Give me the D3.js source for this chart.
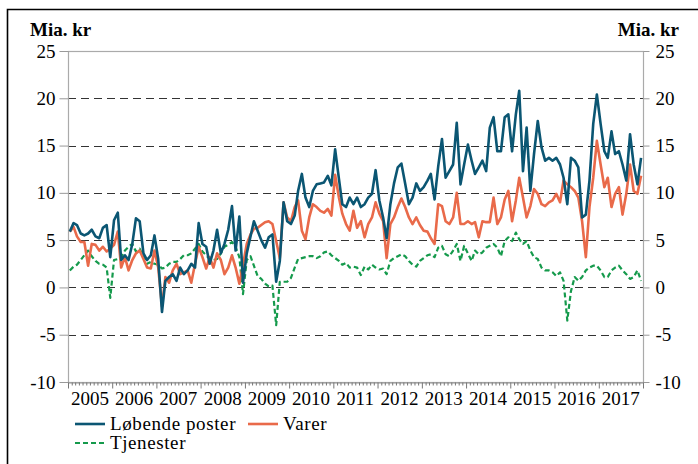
<!DOCTYPE html>
<html lang="da"><head><meta charset="UTF-8">
<title>Løbende poster</title>
<script src="https://d3js.org/d3.v7.min.js"></script>
<style type="text/css">
	body { margin: 0; background: #fff; }
	svg text { font-family: "Liberation Serif", "DejaVu Serif", "Noto Serif", "Times New Roman", Times, Georgia, serif; }
</style>
</head>
<body>
<script type="text/javascript">

var w = 698;
var h = 464;

// monthly values, Jan 2005 - Dec 2017 (mia. kr)
var lobende = [
	5.9, 6.8, 6.6, 5.7, 5.5, 5.7, 6.1, 5.4, 5.2, 6.3, 6.6, 3.2,
	7.1, 7.9, 2.9, 3.4, 2.9, 4.6, 7.3, 7.0, 3.6, 2.9, 3.4, 5.5,
	3.0, -2.6, 0.7, 1.1, 1.4, 0.7, 2.1, 1.4, 1.8, 2.5, 2.1, 6.8,
	4.6, 4.3, 2.5, 3.9, 6.1, 3.6, 4.6, 6.1, 8.6, 3.9, 7.5, 0.5,
	3.6, 5.4, 7.0, 6.0, 5.0, 4.2, 5.3, 5.6, 0.6, 2.8, 9.0, 7.0,
	6.7, 7.6, 10.2, 12.0, 9.5, 8.5, 10.2, 10.9, 11.0, 11.1, 11.8, 10.8,
	14.6, 11.5, 8.8, 8.5, 9.5, 8.8, 9.5, 8.5, 8.8, 9.5, 9.9, 12.4,
	9.2, 7.4, 5.2, 8.8, 11.0, 12.7, 13.1, 11.0, 8.8, 9.5, 11.0, 10.2,
	10.6, 11.3, 12.0, 9.3, 12.8, 15.7, 11.6, 12.3, 13.0, 17.4, 10.9, 13.0,
	15.1, 13.4, 12.0, 12.7, 13.4, 12.3, 16.9, 18.0, 14.4, 14.4, 18.0, 18.3,
	14.4, 18.3, 20.8, 12.3, 16.9, 10.2, 14.1, 17.6, 14.8, 13.4, 13.7, 13.4,
	13.7, 13.0, 11.6, 8.8, 13.7, 13.4, 12.7, 7.4, 7.7, 11.3, 17.3, 20.4,
	17.3, 14.4, 13.7, 16.5, 14.1, 14.4, 13.0, 11.3, 16.2, 13.0, 10.9, 13.7
];
var varer = [
	5.9, 6.4, 5.4, 4.8, 4.8, 2.3, 4.6, 4.5, 3.9, 4.3, 3.8, 4.1,
	4.5, 5.9, 2.1, 3.2, 1.8, 2.9, 3.6, 3.9, 3.0, 2.1, 2.0, 3.9,
	2.1, -2.0, 1.1, 0.5, 1.8, 2.5, 1.4, 1.6, 1.8, 0.5, 2.5, 4.3,
	3.2, 2.0, 3.2, 2.1, 3.6, 2.9, 1.4, 2.1, 3.4, 2.1, 0.4, 2.4,
	4.6, 5.6, 6.2, 6.3, 6.6, 6.9, 7.0, 6.7, 4.9, 3.1, 9.0, 7.4,
	7.0, 8.5, 9.2, 6.0, 5.1, 7.4, 8.8, 8.5, 8.1, 7.9, 8.3, 7.6,
	11.9, 9.5, 7.8, 6.7, 6.0, 8.1, 6.3, 7.0, 5.3, 6.7, 7.4, 9.0,
	7.8, 7.0, 3.1, 6.7, 7.4, 8.5, 9.4, 8.5, 7.4, 6.7, 7.4, 6.6,
	6.0, 5.9, 5.2, 4.6, 8.8, 8.6, 7.0, 6.7, 7.4, 10.0, 6.7, 6.7,
	7.0, 6.7, 6.9, 5.3, 7.0, 6.9, 6.9, 9.5, 6.7, 7.4, 9.3, 10.2,
	7.0, 9.2, 11.6, 9.5, 7.4, 8.6, 10.4, 9.9, 8.8, 8.6, 9.0, 9.2,
	9.9, 9.0, 11.3, 10.9, 10.6, 10.2, 9.5, 7.0, 3.2, 8.5, 11.6, 15.5,
	13.0, 10.6, 11.6, 8.5, 9.9, 10.6, 7.7, 9.9, 13.0, 10.2, 9.9, 11.8
];
var tjenester = [
	1.8, 2.2, 2.4, 2.9, 3.4, 3.9, 3.3, 2.8, 2.5, 2.4, 2.1, -1.1,
	2.9, 3.0, 3.2, 3.9, 4.3, 4.6, 3.8, 4.1, 3.2, 2.5, 2.7, 2.5,
	2.4, 2.0, 2.1, 2.5, 2.7, 2.7, 3.0, 3.4, 3.4, 3.6, 4.1, 4.6,
	3.8, 3.4, 3.0, 2.9, 3.0, 3.6, 4.3, 4.5, 4.8, 4.3, 3.2, -0.7,
	2.9, 3.3, 2.3, 1.2, 0.9, 0.4, 0.1, 0.2, -4.0, 0.6, 0.6, 0.6,
	1.0, 2.1, 3.0, 3.1, 3.2, 3.3, 3.3, 3.1, 3.3, 3.7, 3.8, 3.4,
	3.1, 2.8, 2.4, 2.6, 2.1, 2.2, 2.1, 1.3, 2.2, 1.9, 2.4, 2.1,
	1.9, 2.0, 1.4, 2.8, 3.1, 3.3, 3.5, 3.3, 2.8, 2.4, 2.2, 2.8,
	3.1, 3.4, 3.5, 3.2, 4.2, 4.4, 3.5, 3.3, 3.9, 4.6, 2.8, 4.4,
	3.6, 2.8, 3.9, 3.5, 3.7, 4.2, 4.4, 4.6, 4.2, 3.3, 4.9, 5.3,
	4.9, 5.8, 5.1, 4.6, 4.9, 3.9, 3.2, 3.0, 2.1, 1.8, 1.8, 1.6,
	1.2, 1.6, 0.7, -3.5, -0.4, 1.1, 0.7, 1.1, 1.8, 2.1, 2.3, 2.3,
	1.8, 1.1, 1.1, 1.8, 2.1, 2.3, 1.8, 1.4, 0.9, 1.1, 1.8, 0.7
];
var yTicks = [25, 20, 15, 10, 5, 0, -5, -10];
var years = [2005, 2006, 2007, 2008, 2009, 2010, 2011, 2012, 2013, 2014, 2015, 2016, 2017];

var seriesList = [
	{name: "Løbende poster", values: lobende, color: "#0b5673", dash: null, width: 2.6},
	{name: "Varer", values: varer, color: "#e96a4a", dash: null, width: 2.6},
	{name: "Tjenester", values: tjenester, color: "#159a4c", dash: "5,3", width: 2.2}
];

var plot = {left: 68, right: 643, top: 51, bottom: 382};

var start = new Date(2005, 0, 1);
var xScale = d3.scaleTime()
	.domain([start, new Date(2018, 0, 1)])
	.range([plot.left, plot.right]);
var yScale = d3.scaleLinear()
	.domain([-10, 25])
	.range([plot.bottom, plot.top]);

function monthDate(i) {
	// middle of month i after Jan 2005
	return d3.timeDay.offset(d3.timeMonth.offset(start, i), 15);
}

var svg = d3.select("body")
	.append("svg")
	.attr("width", w)
	.attr("height", h);

// outer frame (left and top edge)
svg.append("path")
	.attr("d", "M7.5," + h + "V9.5H" + w)
	.attr("fill", "none")
	.attr("stroke", "#000")
	.attr("stroke-width", 1.6);

// gridlines
svg.append("g")
	.selectAll("line")
	.data(yTicks.filter(function(d) { return d > -10 && d < 25; }))
	.enter()
	.append("line")
	.attr("x1", plot.left)
	.attr("x2", plot.right)
	.attr("y1", function(d) { return Math.round(yScale(d)) + 0.5; })
	.attr("y2", function(d) { return Math.round(yScale(d)) + 0.5; })
	.attr("stroke", "#333")
	.attr("stroke-width", 1.1)
	.attr("stroke-dasharray", "8,5");

// plot box
svg.append("rect")
	.attr("x", plot.left + 0.5)
	.attr("y", plot.top + 0.5)
	.attr("width", plot.right - plot.left)
	.attr("height", plot.bottom - plot.top)
	.attr("fill", "none")
	.attr("stroke", "#aaa")
	.attr("stroke-width", 1.2);

// y axes, left and right
var fmt = function(d) { return String(d); };
var yAxisL = d3.axisLeft(yScale).tickValues(yTicks).tickSize(9).tickPadding(4).tickFormat(fmt);
var yAxisR = d3.axisRight(yScale).tickValues(yTicks).tickSize(6).tickPadding(6).tickFormat(fmt);

var gl = svg.append("g")
	.attr("transform", "translate(" + (plot.left + 0.5) + ",0)")
	.call(yAxisL);
var gr = svg.append("g")
	.attr("transform", "translate(" + (plot.right + 0.5) + ",0)")
	.call(yAxisR);
[gl, gr].forEach(function(g) {
	g.attr("font-family", null).attr("font-size", "19px");
	g.select(".domain").remove();
	g.selectAll(".tick line").attr("stroke", "#999");
	g.selectAll("text").attr("fill", "#000");
});

// x axis: month ticks and year labels
var xAxis = d3.axisBottom(xScale)
	.ticks(d3.timeMonth.every(1))
	.tickSize(3)
	.tickFormat("");
var gx = svg.append("g")
	.attr("transform", "translate(0," + (plot.bottom + 0.5) + ")")
	.call(xAxis);
gx.select(".domain").attr("stroke", "#999");
gx.selectAll(".tick line")
	.attr("stroke", "#777")
	.attr("y2", function(d) { return d.getMonth() === 0 ? 6 : 3; });

svg.append("g")
	.attr("font-size", "19px")
	.selectAll("text")
	.data(years)
	.enter()
	.append("text")
	.attr("x", function(d) { return xScale(new Date(d, 6, 1)); })
	.attr("y", 405)
	.attr("text-anchor", "middle")
	.text(function(d) { return d; });

// unit labels
[[30, "start"], [679, "end"]].forEach(function(p) {
	svg.append("text")
		.attr("x", p[0])
		.attr("y", 36)
		.attr("text-anchor", p[1])
		.attr("font-size", "19px")
		.attr("font-weight", "bold")
		.text("Mia. kr");
});

// lines
var line = d3.line()
	.x(function(d, i) { return xScale(monthDate(i)); })
	.y(function(d) { return yScale(d); });

svg.append("g")
	.selectAll("path")
	.data(seriesList.slice().reverse())
	.enter()
	.append("path")
	.attr("d", function(s) { return line(s.values); })
	.attr("fill", "none")
	.attr("stroke", function(s) { return s.color; })
	.attr("stroke-width", function(s) { return s.width; })
	.attr("stroke-dasharray", function(s) { return s.dash; })
	.attr("stroke-linejoin", "round");

// legend
var legendPos = [[75, 424], [248, 424], [75, 443]];
var lg = svg.append("g")
	.selectAll("g")
	.data(seriesList)
	.enter()
	.append("g")
	.attr("transform", function(d, i) { return "translate(" + legendPos[i][0] + "," + legendPos[i][1] + ")"; });
lg.append("line")
	.attr("x1", 0)
	.attr("x2", 30)
	.attr("stroke", function(s) { return s.color; })
	.attr("stroke-width", function(s) { return s.width; })
	.attr("stroke-dasharray", function(s) { return s.dash; });
lg.append("text")
	.attr("x", 35)
	.attr("y", 6)
	.attr("font-size", "19px")
	.attr("letter-spacing", "0.6px")
	.text(function(s) { return s.name; });

</script>
</body>
</html>
